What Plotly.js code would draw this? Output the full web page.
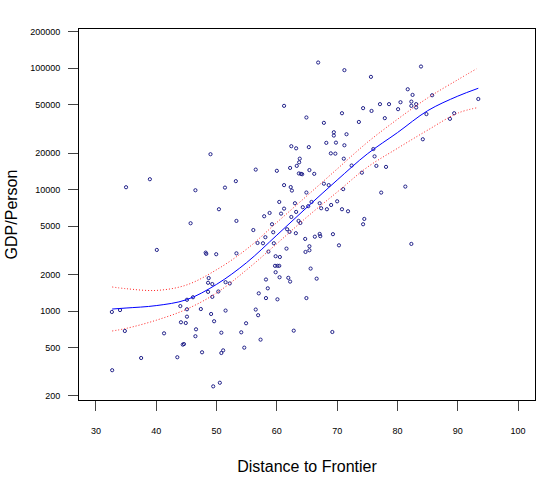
<!DOCTYPE html>
<html>
<head>
<meta charset="utf-8">
<script src="https://cdn.plot.ly/plotly-3.0.1.min.js"></script>
<style>html,body{margin:0;padding:0;background:#fff;}#chart{width:550px;height:480px;}</style>
</head>
<body>
<div id="chart"></div>
<script>
// Observed countries: distance to frontier vs GDP per person
var distance = [
35.0,38.95,49.0,46.5,51.4,53.2,56.5,50.4,45.7,53.3,56.1,57.9,58.8,59.2,58.1,59.4,
66.85,71.2,83.9,75.6,61.2,64.9,67.8,70.8,73.6,74.3,75.7,77.1,78.6,77.9,80.1,80.5,81.7,82.5,82.3,82.3,83.1,83.1,85.75,84.8,89.4,88.7,93.4,84.2,
69.45,69.45,71.55,68.2,69.8,71.2,62.4,63.2,65.3,68.95,69.7,63.8,63.7,63.3,62.2,71.1,76.2,76.0,72.4,76.5,78.1,74.1,81.3,77.3,
60.0,61.2,63.65,64.0,64.2,65.4,66.2,62.3,62.5,64.9,67.8,68.6,71.0,60.4,63.0,61.2,60.7,63.2,64.3,65.2,65.75,67.1,67.35,68.3,69.0,70.0,70.8,71.8,
62.4,63.6,63.9,61.7,62.1,63.15,64.7,66.3,67.1,67.2,69.3,74.5,74.3,
82.3,70.3,65.4,65.4,64.75,61.6,60.5,59.8,59.7,60.1,60.4,59.8,60.45,61.9,62.2,65.6,66.6,64.9,60.1,62.8,69.2,
40.1,48.2,48.3,49.95,53.3,56.8,57.7,59.5,58.6,48.7,48.6,49.3,48.6,50.3,49.3,51.5,52.2,46.1,45.1,44.0,45.1,47.4,51.5,49.1,45.1,49.6,44.1,44.9,46.6,41.3,50.8,46.5,54.1,54.9,56.5,56.9,57.0,58.2,58.5,58.2,57.3,54.6,44.4,44.6,51.1,50.8,47.6,43.5,37.5,32.7,49.45,50.55,32.65,34.0,34.8
];
var gdpPerson = [
10470,12190,19590,9890,10400,11750,14630,6900,5290,5530,4650,6040,6430,5190,4060,4460,
111400,96400,103300,84900,49000,39300,35500,42600,36100,46900,44500,50600,50600,38800,46000,52500,67100,60300,53100,49000,50600,47500,59900,41900,42600,38300,55800,26000,
29700,27900,28600,24300,24400,23200,22800,21900,22400,19900,19800,18000,16800,15700,15100,18000,18800,21600,15800,15700,15400,13800,10600,9460,
14300,10900,13600,13500,13400,14500,13500,10500,9830,9470,11200,10900,10100,7920,7730,6980,6350,6560,7170,7310,7920,7730,7030,6900,7480,8020,6900,6640,
5960,5530,5320,4720,4490,4380,3930,4100,4320,4140,4300,5740,5190,
3575,3480,3420,3170,3070,3270,2790,2830,2360,2360,2360,2090,1900,1880,1750,2240,1850,1280,1250,690,673,
3190,3030,2960,2940,2990,3640,3620,3620,3090,1870,1710,1670,1440,1450,1310,1730,1690,1300,1240,1100,1035,1040,1010,947,900,825,809,798,708,656,664,621,669,794,1030,925,1400,1820,1540,1280,582,500,530,535,475,452,458,417,411,326,240,257,984,1020,686
];

// Fitted curve and confidence band
var fitX     = [32.7, 35, 40, 45, 50, 55, 60, 65, 70, 75, 80, 85, 90, 93.4];
var fitMid   = [1040, 1060, 1110, 1240, 1660, 2510, 4220, 7160, 12000, 19700, 29500, 44700, 58900, 68400];
var upperX   = [32.7, 35, 40, 45, 50, 55, 60, 65, 70, 75, 80, 85, 90, 93.1];
var fitUpper = [1580, 1530, 1480, 1640, 2190, 3240, 5370, 8910, 14800, 24500, 38000, 56900, 80400, 98900];
var fitLower = [686, 720, 841, 1035, 1410, 2190, 3590, 5960, 9550, 15300, 21900, 30900, 42700, 47500];

var xTicks = [30, 40, 50, 60, 70, 80, 90, 100];
var yTicks = [200, 500, 1000, 2000, 5000, 10000, 20000, 50000, 100000, 200000];
var yTickText = ['200', '500', '1000', '2000', '5000', '10000', '20000', '50000', '100000', '200000'];

var traces = [
  {x: distance, y: gdpPerson, type: 'scatter', mode: 'markers',
   marker: {symbol: 'circle-open', size: 3.2, color: '#22228a', line: {width: 1}}, hoverinfo: 'x+y'},
  {x: upperX, y: fitUpper, type: 'scatter', mode: 'lines',
   line: {color: '#ff2020', width: 1, dash: '1px,2px', shape: 'spline'}},
  {x: fitX, y: fitLower, type: 'scatter', mode: 'lines',
   line: {color: '#ff2020', width: 1, dash: '1px,2px', shape: 'spline'}},
  {x: fitX, y: fitMid, type: 'scatter', mode: 'lines',
   line: {color: '#0000ff', width: 1, shape: 'spline'}}
];

var axisCommon = {
  showgrid: false, zeroline: false, showline: true, mirror: true,
  linecolor: '#000', linewidth: 1, ticks: 'outside', ticklen: 10,
  tickcolor: '#444', tickwidth: 1,
  tickfont: {family: 'Liberation Sans, Arial, sans-serif', size: 9, color: '#000'}
};

var layout = {
  width: 550, height: 480,
  margin: {l: 79, r: 15, t: 29, b: 80, pad: 0},
  paper_bgcolor: '#fff', plot_bgcolor: '#fff',
  showlegend: false,
  font: {family: 'Liberation Sans, Arial, sans-serif', size: 9, color: '#000'},
  xaxis: Object.assign({}, axisCommon, {
    range: [27.2, 102.8], tickmode: 'array', tickvals: xTicks,
    ticklabelstandoff: 12,
    title: {text: 'Distance to Frontier', font: {size: 16, color: '#000'}, standoff: 26}
  }),
  yaxis: Object.assign({}, axisCommon, {
    type: 'log', range: [2.268, 5.323], tickmode: 'array',
    tickvals: yTicks, ticktext: yTickText,
    ticklabelstandoff: 6,
    title: {text: 'GDP/Person', font: {size: 16, color: '#000'}, standoff: 8}
  })
};

Plotly.newPlot('chart', traces, layout, {staticPlot: true, displayModeBar: false});
</script>
</body>
</html>
